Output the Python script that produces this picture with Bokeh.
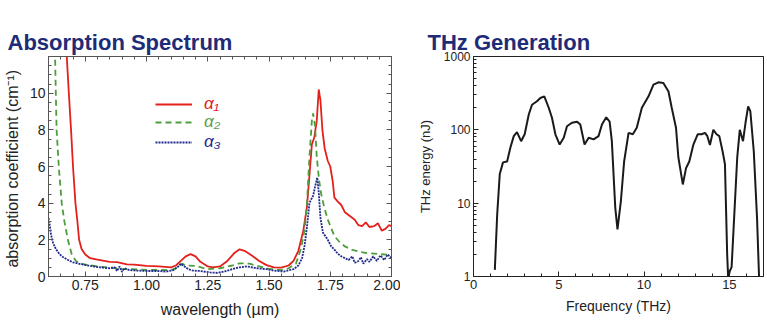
from bokeh.plotting import figure
from bokeh.layouts import row
from bokeh.models import (LinearAxis, FixedTicker, Legend, LegendItem,
                          NumeralTickFormatter, CustomLabelingPolicy)
from bokeh.embed import file_html
from bokeh.resources import INLINE

# ---------------- data: absorption spectrum ----------------
w1 = [0.668, 0.675, 0.683, 0.692, 0.700, 0.710, 0.718, 0.725, 0.735, 0.75, 0.77, 0.80, 0.85, 0.88,
      0.92, 0.95, 1.00, 1.05, 1.10, 1.12, 1.14, 1.16, 1.18, 1.20, 1.22, 1.25, 1.27, 1.30, 1.33,
      1.36, 1.38, 1.40, 1.43, 1.46, 1.49, 1.52, 1.55, 1.58, 1.60, 1.62, 1.64, 1.655, 1.665, 1.675,
      1.685, 1.695, 1.703, 1.71, 1.718, 1.727, 1.74, 1.75, 1.76, 1.767, 1.78, 1.795, 1.81, 1.83,
      1.85, 1.865, 1.88, 1.895, 1.91, 1.93, 1.945, 1.96, 1.975, 1.99, 2.00]
a1 = [14.0, 11.9, 10.0, 8.0, 6.0, 4.0, 3.0, 2.0, 1.5, 1.2, 1.0, 0.92, 0.8, 0.78,
      0.66, 0.65, 0.58, 0.55, 0.5, 0.6, 0.85, 1.1, 1.22, 1.1, 0.8, 0.55, 0.5, 0.55, 0.85,
      1.3, 1.48, 1.4, 1.15, 0.85, 0.62, 0.5, 0.48, 0.6, 0.85, 1.4, 2.5, 3.8, 5.5, 7.2,
      7.6, 8.5, 10.2, 9.6, 8.0, 7.0, 6.3, 6.0, 5.2, 4.3, 4.1, 3.9, 3.5, 3.3,
      3.1, 2.8, 2.75, 2.95, 2.7, 2.75, 2.9, 2.5, 2.6, 2.8, 2.75]

w2 = [0.62, 0.627, 0.633, 0.642, 0.654, 0.665, 0.679, 0.695, 0.713, 0.73, 0.8, 0.9, 1.0, 1.1,
      1.13, 1.145, 1.16, 1.2, 1.25, 1.3, 1.35, 1.38, 1.42, 1.46, 1.5, 1.55, 1.58, 1.61, 1.63,
      1.645, 1.655, 1.665, 1.675, 1.68, 1.688, 1.695, 1.705, 1.713, 1.725, 1.74, 1.755, 1.767,
      1.79, 1.81, 1.84, 1.87, 1.9, 1.95, 2.0]
a2 = [14.0, 11.9, 8.0, 6.0, 4.0, 3.0, 2.0, 1.2, 0.83, 0.7, 0.55, 0.42, 0.36, 0.35,
      0.5, 0.7, 0.6, 0.58, 0.4, 0.45, 0.6, 0.72, 0.7, 0.55, 0.42, 0.35, 0.45, 0.7, 1.5,
      2.5, 4.0, 6.5, 8.5, 8.9, 8.2, 6.5, 5.2, 4.5, 3.8, 3.1, 2.6, 2.2,
      1.85, 1.64, 1.45, 1.35, 1.28, 1.22, 1.18]

w3 = [0.600, 0.605, 0.610, 0.618, 0.63, 0.645, 0.66, 0.68, 0.70, 0.73, 0.76, 0.81, 0.85, 0.87,
      0.88, 0.89, 0.90, 0.91, 0.93, 0.95, 1.00, 1.05, 1.08, 1.11, 1.13, 1.14, 1.155, 1.17, 1.19,
      1.22, 1.26, 1.29, 1.32, 1.35, 1.38, 1.41, 1.45, 1.49, 1.52, 1.56, 1.60, 1.62, 1.635, 1.645,
      1.655, 1.665, 1.672, 1.68, 1.688, 1.697, 1.703, 1.71, 1.72, 1.73, 1.74, 1.754, 1.765, 1.78,
      1.795, 1.81, 1.825, 1.84, 1.85, 1.864, 1.875, 1.885, 1.90, 1.91, 1.925, 1.94, 1.955, 1.97,
      1.985, 2.00]
a3 = [3.2, 2.8, 2.3, 1.85, 1.5, 1.22, 1.05, 0.9, 0.77, 0.68, 0.6, 0.5, 0.45, 0.5,
      0.3, 0.55, 0.25, 0.45, 0.35, 0.33, 0.3, 0.3, 0.27, 0.35, 0.55, 0.7, 0.55, 0.4, 0.32,
      0.3, 0.22, 0.2, 0.28, 0.4, 0.5, 0.55, 0.45, 0.4, 0.32, 0.27, 0.4, 0.6, 1.0, 1.67,
      2.7, 4.0, 4.2, 4.4, 4.9, 5.4, 4.6, 3.2, 2.4, 2.2, 2.0, 1.64, 1.5, 1.25,
      1.1, 1.0, 0.9, 1.1, 0.75, 0.83, 1.05, 0.7, 0.95, 0.8, 1.1, 0.85, 1.15, 0.9,
      1.2, 1.0]

wl_ticks = [0.75, 1.00, 1.25, 1.50, 1.75, 2.00]
wl_minor = [round(0.6 + 0.05 * i, 2) for i in range(29)]
ab_ticks = [0, 2, 4, 6, 8, 10]
ab_minor = [0.5 * i for i in range(25)]
series_labels = ["α₁", "α₂", "α₃"]

# ---------------- data: THz generation ----------------
freq = [1.25, 1.39, 1.54, 1.73, 1.97, 2.16, 2.36, 2.55, 2.79, 3.0, 3.24, 3.43, 3.72, 3.92, 4.15,
        4.41, 4.6, 4.8, 5.05, 5.29, 5.48, 5.77, 6.07, 6.26, 6.51, 6.75, 7.04, 7.33, 7.53, 7.78,
        7.98, 8.11, 8.31, 8.44, 8.64, 8.83, 9.09, 9.34, 9.57, 9.87, 10.26, 10.55, 10.84, 11.13,
        11.43, 11.62, 11.87, 12.01, 12.27, 12.46, 12.65, 12.89, 13.14, 13.37, 13.57, 13.71, 13.86,
        14.06, 14.25, 14.41, 14.6, 14.74, 14.87, 14.93, 15.03, 15.13, 15.28, 15.46, 15.61, 15.8,
        15.96, 16.1, 16.23, 16.43, 16.62, 16.74]
energy = [1.23, 7.1, 25, 36, 37, 57, 82, 93, 70, 87, 162, 220, 245, 272, 286,
          200, 146, 87, 63, 78, 112, 125, 129, 118, 63, 78, 74, 82, 118, 148,
          129, 70, 8.7, 4.4, 10.7, 37, 91, 87, 107, 200, 286, 413, 444, 435,
          333, 200, 107, 42, 18, 30, 37, 63, 87, 87, 91, 82, 62,
          100, 87, 82, 51, 34, 2.0, 0.95, 1.2, 1.34, 6.4, 42, 100, 70,
          131, 209, 178, 51, 6.4, 0.98]

f_ticks = [0, 5, 10, 15]
f_minor = list(range(18))
e_ticks = [1, 10, 100, 1000]
e_minor = [m * d for d in (1, 10, 100) for m in range(2, 10)]

titles = ["Absorption Spectrum", "THz Generation"]

TITLE_COLOR = "#1e2c78"
FONT = "Liberation Sans"
HIDE_LABELS = "for (const i of Array.from(indices)) { indices.unset(i) }\nreturn indices"


def style_axis(ax, ticks, minor, fmt, labels=True, size="14px", color="#555555", pad=0):
    ax.ticker = FixedTicker(ticks=ticks, minor_ticks=minor)
    ax.formatter = NumeralTickFormatter(format=fmt)
    ax.major_tick_in = 5
    ax.major_tick_out = 0
    ax.minor_tick_in = 3
    ax.minor_tick_out = 0
    ax.axis_line_color = color
    ax.major_tick_line_color = color
    ax.minor_tick_line_color = color
    ax.major_label_text_font = FONT
    ax.major_label_text_font_size = size
    ax.major_label_text_color = "#222222"
    ax.axis_label_text_font = FONT
    ax.axis_label_text_font_style = "normal"
    ax.axis_label_text_color = "#222222"
    ax.major_label_standoff = 3
    if not labels:
        ax.major_label_policy = CustomLabelingPolicy(code=HIDE_LABELS)
        ax.major_label_text_font_size = "0px"
        ax.major_label_standoff = pad


def set_title(p, text, offset):
    p.title.text = text
    p.title.text_font = FONT
    p.title.text_font_size = "22px"
    p.title.text_font_style = "bold"
    p.title.text_color = TITLE_COLOR
    p.title.align = "left"
    p.title.vertical_align = "top"
    p.title.offset = offset
    p.title.standoff = 0


# ---------------- left panel ----------------
p1 = figure(width=400, height=325, x_range=(0.6, 2.0), y_range=(0, 12),
            output_backend="svg", toolbar_location=None,
            min_border_left=48, min_border_right=9, min_border_top=56, min_border_bottom=48)
p1.grid.visible = False
p1.outline_line_color = "#555555"
set_title(p1, titles[0], -41)

r1 = p1.line(w1, a1, line_color="#e3201b", line_width=1.8)
r2 = p1.line(w2, a2, line_color="#4c9e3c", line_width=1.8, line_dash="6 4")
r3 = p1.line(w3, a3, line_color="#1f2a8c", line_width=1.8, line_dash="2 1")

style_axis(p1.xaxis[0], wl_ticks, wl_minor, "0.00")
style_axis(p1.yaxis[0], ab_ticks, ab_minor, "0")
p1.xaxis.axis_label = "wavelength (µm)"
p1.xaxis.axis_label_text_font_size = "16px"
p1.xaxis.axis_label_standoff = 8
p1.yaxis.axis_label = "absorption coefficient  (cm⁻¹)"
p1.yaxis.axis_label_text_font_size = "16px"
p1.yaxis.axis_label_standoff = 6

top_ax = LinearAxis()
style_axis(top_ax, wl_ticks, wl_minor, "0.00", labels=False, pad=30)
p1.add_layout(top_ax, "above")
right_ax = LinearAxis()
style_axis(right_ax, ab_ticks, ab_minor, "0", labels=False)
p1.add_layout(right_ax, "right")

legend_specs = [(r1, series_labels[0], "#e3201b", 162),
                (r2, series_labels[1], "#5a9e4a", 144),
                (r3, series_labels[2], "#1f2a8c", 124)]
for rend, lab, col, vy in legend_specs:
    lg = Legend(items=[LegendItem(label=lab, renderers=[rend])], location=(107, vy),
                orientation="vertical", border_line_color=None, background_fill_alpha=0,
                padding=0, margin=0, glyph_width=37, glyph_height=18, label_standoff=12,
                label_text_font=FONT, label_text_font_size="17px",
                label_text_font_style="italic", label_text_color=col)
    p1.add_layout(lg, "center")

# ---------------- right panel ----------------
p2 = figure(width=367, height=325, x_range=(0, 17), y_range=(1, 1000), y_axis_type="log",
            output_backend="svg", toolbar_location=None,
            min_border_left=73, min_border_right=4, min_border_top=55, min_border_bottom=49)
p2.grid.visible = False
p2.outline_line_color = "#222222"
set_title(p2, titles[1], -46)

p2.line(freq, energy, line_color="#1a1a1a", line_width=2)

style_axis(p2.xaxis[0], f_ticks, f_minor, "0", size="13px", color="#222222")
style_axis(p2.yaxis[0], e_ticks, e_minor, "0", size="12px", color="#222222")
p2.xaxis.axis_label = "Frequency (THz)"
p2.xaxis.axis_label_text_font_size = "14px"
p2.xaxis.axis_label_standoff = 6
p2.yaxis.axis_label = "THz energy (nJ)"
p2.yaxis.axis_label_text_font_size = "13px"
p2.yaxis.axis_label_standoff = 8

top_ax2 = LinearAxis()
style_axis(top_ax2, [], [], "0", labels=False, color="#222222", pad=29)
top_ax2.major_tick_in = 0
top_ax2.minor_tick_in = 0
p2.add_layout(top_ax2, "above")

layout = row(p1, p2)
open("out.html", "w").write(file_html(layout, INLINE))
